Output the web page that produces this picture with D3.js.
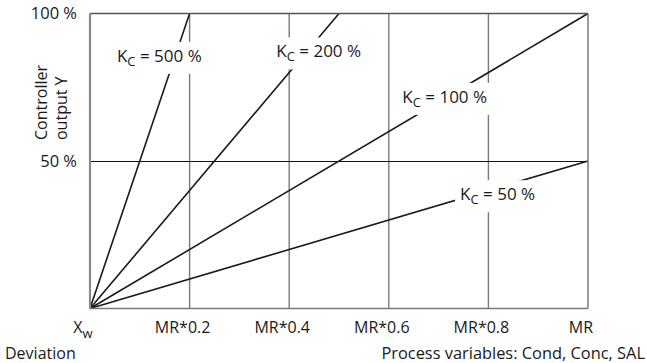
<!DOCTYPE html>
<html>
<head>
<meta charset="utf-8">
<script src="https://cdn.jsdelivr.net/npm/d3@7"></script>
<style>
  body { margin: 0; background: #fff; }
  text { font-family: "Open Sans", sans-serif; fill: #1a1a1a; }
</style>
</head>
<body>
<div class="canvas"></div>
<script>
// gain curves: Y = Kc * deviation, clipped at the top
var gains = ["500 %", "200 %", "100 %", "50 %"];
var lineStartX = [0, 0, 0, 0];
var lineStartY = [0, 0, 0, 0];
var lineEndX = [0.2, 0.5, 1, 1];
var lineEndY = [100, 100, 100, 50];

// where each Kc label sits (in data units: deviation, output %)
var labelX = [0.054, 0.374, 0.627, 0.743];
var labelY = [83.6, 85.1, 69.7, 36.7];

var xTicks = [0, 0.2, 0.4, 0.6, 0.8, 1];
var xTickLabels = ["X", "MR*0.2", "MR*0.4", "MR*0.6", "MR*0.8", "MR"];
var yTicks = [50, 100];
var yTickLabels = ["50 %", "100 %"];

var W = 647, H = 363;
var svg = d3.select(".canvas").append("svg").attr("width", W).attr("height", H);

var x = d3.scaleLinear().domain([0, 1]).range([90, 588]);
var y = d3.scaleLinear().domain([0, 100]).range([308.5, 13.5]);

// vertical grid
svg.append("g")
  .selectAll("line")
  .data(xTicks.slice(1, 5))
  .enter()
  .append("line")
  .attr("x1", function(d) { return x(d); })
  .attr("x2", function(d) { return x(d); })
  .attr("y1", y(0)).attr("y2", y(100))
  .attr("stroke", "#7a7a7a").attr("stroke-width", 1.4);

// 50 % line
svg.append("line")
  .attr("x1", x(0)).attr("x2", x(1))
  .attr("y1", y(50) + 0.5).attr("y2", y(50) + 0.5)
  .attr("stroke", "#111").attr("stroke-width", 1.2);

// gain lines
var lineData = gains.map(function(g, i) {
  return [[lineStartX[i], lineStartY[i]], [lineEndX[i], lineEndY[i]]];
});
var line = d3.line().x(function(d) { return x(d[0]); }).y(function(d) { return y(d[1]); });

svg.append("g")
  .selectAll("path")
  .data(lineData)
  .enter()
  .append("path")
  .attr("d", line)
  .attr("fill", "none")
  .attr("stroke", "#1a1a1a")
  .attr("stroke-width", 1.6);

// frame
svg.append("line").attr("x1", x(0)).attr("x2", x(1)).attr("y1", y(100)).attr("y2", y(100))
  .attr("stroke", "#555").attr("stroke-width", 1.5);
svg.append("line").attr("x1", x(0)).attr("x2", x(1)).attr("y1", y(0)).attr("y2", y(0))
  .attr("stroke", "#7a7a7a").attr("stroke-width", 1.5);
svg.append("line").attr("x1", x(0)).attr("x2", x(0)).attr("y1", y(0)).attr("y2", y(100))
  .attr("stroke", "#8a8a8a").attr("stroke-width", 2.2);
svg.append("line").attr("x1", x(1)).attr("x2", x(1)).attr("y1", y(0)).attr("y2", y(100))
  .attr("stroke", "#7a7a7a").attr("stroke-width", 1.5);

// Kc labels with white boxes
var lab = svg.append("g")
  .selectAll("g")
  .data(gains)
  .enter()
  .append("g");

lab.each(function(d, i) {
  var g = d3.select(this);
  var box = g.append("rect").attr("fill", "#fff");
  var t = g.append("text")
    .attr("x", x(labelX[i]))
    .attr("y", y(labelY[i]))
    .style("font-size", "17px");
  t.append("tspan").text("K");
  t.append("tspan").attr("dy", 4).style("font-size", "13px").text("C");
  t.append("tspan").attr("dy", -4).text(" = " + d);
  var bb = t.node().getBBox();
  box.attr("x", bb.x - 5).attr("width", bb.width + 10)
    .attr("y", y(labelY[i]) - 20).attr("height", 32);
});

// x tick labels
var xl = svg.append("g")
  .selectAll("text")
  .data(xTicks)
  .enter()
  .append("text")
  .attr("x", function(d) { return x(d) - 7; })
  .attr("y", 333)
  .attr("text-anchor", "middle")
  .style("font-size", "16px")
  .text(function(d, i) { return xTickLabels[i]; });

xl.filter(function(d, i) { return i == 0; })
  .append("tspan").attr("dy", 5).style("font-size", "13px").text("w");

// y tick labels
svg.append("g")
  .selectAll("text")
  .data(yTicks)
  .enter()
  .append("text")
  .attr("x", 77)
  .attr("y", function(d) { return y(d) + 5.5; })
  .attr("text-anchor", "end")
  .style("font-size", "16.5px")
  .text(function(d, i) { return yTickLabels[i]; });

// y title
var yt = svg.append("text")
  .attr("transform", "translate(0,140) rotate(-90)")
  .attr("text-anchor", "start")
  .style("font-size", "16px");
yt.append("tspan").attr("x", 0).attr("y", 47).text("Controller");
yt.append("tspan").attr("x", 0).attr("y", 67).text("output Y");

// bottom captions
svg.append("text").attr("x", 5).attr("y", 359).style("font-size", "16px").text("Deviation");
svg.append("text").attr("x", 645).attr("y", 359).attr("text-anchor", "end")
  .style("font-size", "16.4px").text("Process variables: Cond, Conc, SAL");
</script>
</body>
</html>
